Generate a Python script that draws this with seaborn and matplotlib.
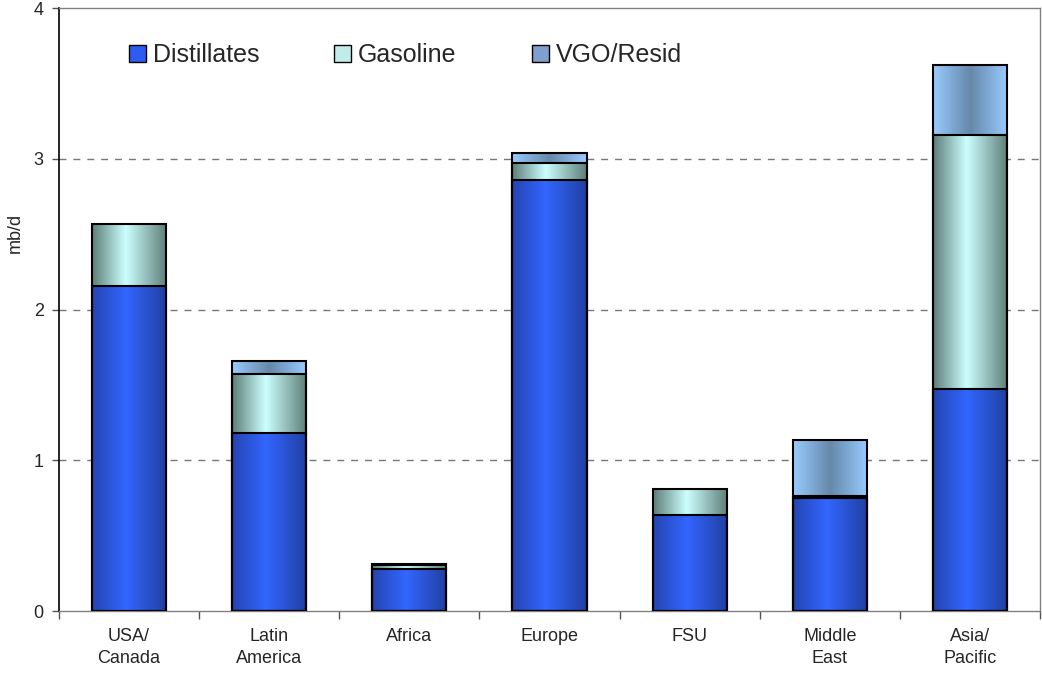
import numpy as np
import pandas as pd
import matplotlib
matplotlib.use("Agg")
import matplotlib.pyplot as plt
import seaborn as sns
from matplotlib.colors import LinearSegmentedColormap
from matplotlib.patches import Patch

# Refinery product demand growth by region (mb/d)
regions = ["USA/\nCanada", "Latin\nAmerica", "Africa", "Europe", "FSU", "Middle\nEast", "Asia/\nPacific"]
distillates = [2.16, 1.18, 0.28, 2.86, 0.64, 0.75, 1.47]
gasoline = [0.41, 0.39, 0.025, 0.11, 0.17, 0.012, 1.69]
vgo_resid = [0.0, 0.09, 0.005, 0.07, 0.0, 0.37, 0.46]
series_names = ["Distillates", "Gasoline", "VGO/Resid"]

sns.set_theme(style="white")
plt.rcParams["font.family"] = ["Liberation Sans", "DejaVu Sans"]

# Horizontal shading profiles for each series (cylinder look)
gradients = {
    "Distillates": LinearSegmentedColormap.from_list(
        "dist", [(0.0, "#2444B0"), (0.45, "#3366FF"), (1.0, "#2040A0")]),
    "Gasoline": LinearSegmentedColormap.from_list(
        "gas", [(0.0, "#5E7E78"), (0.45, "#CCFFFF"), (1.0, "#5E7E78")]),
    "VGO/Resid": LinearSegmentedColormap.from_list(
        "vgo", [(0.0, "#99CCFF"), (0.5, "#6688AA"), (1.0, "#99CCFF")]),
}
legend_colors = {"Distillates": "#2F5CF0", "Gasoline": "#BFEDEA", "VGO/Resid": "#7F9FCC"}

df = pd.DataFrame({"region": regions, "Distillates": distillates,
                   "Gasoline": gasoline, "VGO/Resid": vgo_resid})
# Cumulative stack heights, top segment first
df["top_VGO/Resid"] = df["Distillates"] + df["Gasoline"] + df["VGO/Resid"]
df["top_Gasoline"] = df["Distillates"] + df["Gasoline"]
df["top_Distillates"] = df["Distillates"]

fig = plt.figure(figsize=(10.42, 6.75), dpi=100)
ax = fig.add_axes([0.0566, 0.0948, 0.9415, 0.893])

layers = []
for i, name in enumerate(["VGO/Resid", "Gasoline", "Distillates"]):
    n_before = len(ax.patches)
    sns.barplot(data=df, x="region", y="top_" + name, order=regions, ax=ax,
                color=legend_colors[name], saturation=1, width=0.53,
                edgecolor="black", linewidth=1.5, errorbar=None)
    layers.append((i, name, ax.patches[n_before:]))

# Replace flat fills with horizontal gradients, clipped to each bar
grad = np.linspace(0, 1, 256).reshape(1, -1)
below = dict(zip(series_names, [np.zeros(len(regions)), df["Distillates"].to_numpy(),
                                df["top_Gasoline"].to_numpy()]))
for i, name, patches in layers:
    for j, p in enumerate(patches):
        p.set_facecolor("none")
        p.set_zorder(5)
        seg = p.get_height() - below[name][j]
        if seg <= 1e-9:
            p.set_visible(False)
            continue
        x0, w, h = p.get_x(), p.get_width(), p.get_height()
        im = ax.imshow(grad, cmap=gradients[name], aspect="auto",
                       extent=(x0, x0 + w, 0, h), zorder=2 + 0.1 * i,
                       interpolation="bilinear")
        im.set_clip_path(p)

ax.set_xlim(-0.5, len(regions) - 0.5)
ax.set_ylim(0, 4)

# Axes styling
for y in [1, 2, 3]:
    ax.axhline(y, color="#777777", linestyle=(0, (5, 5)), linewidth=1.0, zorder=1)
ax.spines["left"].set_color("black")
ax.spines["left"].set_linewidth(1.2)
for s in ["bottom", "top", "right"]:
    ax.spines[s].set_color("#808080")
    ax.spines[s].set_linewidth(1.0)

ax.set_yticks([0, 1, 2, 3, 4])
ax.set_yticklabels(["0", "1", "2", "3", "4"])
ax.tick_params(axis="y", which="major", direction="out", length=5, width=1,
               color="#555555", labelsize=13, pad=6, left=True)
ax.set_xticks(range(len(regions)))
ax.set_xticklabels(regions, fontsize=13, linespacing=1.42)
ax.tick_params(axis="x", which="major", length=0, pad=12)
ax.set_xticks(np.arange(-0.5, len(regions), 1.0), minor=True)
ax.tick_params(axis="x", which="minor", direction="out", length=6, width=1,
               color="#555555", bottom=True)

ax.set_xlabel("")
ax.set_ylabel("mb/d", fontsize=13)
ax.yaxis.set_label_coords(-0.036, 0.628)

handles = [Patch(facecolor=legend_colors[n], edgecolor="black", linewidth=1.0) for n in series_names]
ax.legend(handles, series_names, loc="center left", bbox_to_anchor=(0.071, 0.922),
          ncol=3, frameon=False, fontsize=18, handlelength=0.68, handleheight=0.68,
          handletextpad=0.28, columnspacing=3.0, borderpad=0, borderaxespad=0)

fig.savefig("out.png", dpi=100)
